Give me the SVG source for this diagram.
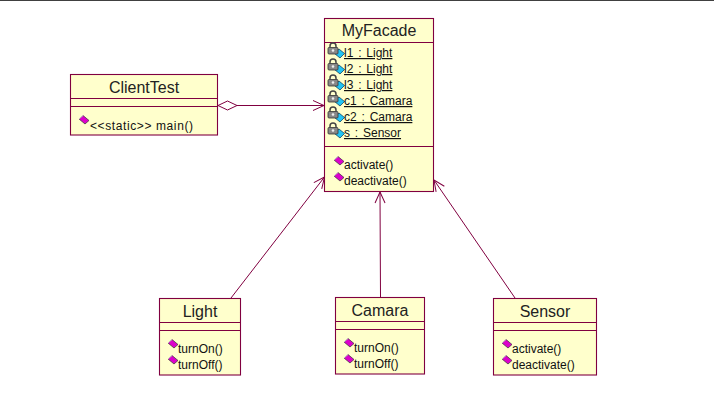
<svg xmlns="http://www.w3.org/2000/svg" width="714" height="407" viewBox="0 0 714 407">
<style>
.box{fill:#ffffcc;stroke:#800040;stroke-width:1.1}
.div{stroke:#800040;stroke-width:1.1;fill:none}
.conn{stroke:#800040;stroke-width:1;fill:none}
.title{font-family:"Liberation Sans",Arial,sans-serif;font-size:16px;fill:#222;text-anchor:middle}
.m{font-family:"Liberation Sans",Arial,sans-serif;font-size:12px;fill:#111}
.u{text-decoration:underline;word-spacing:1.5px}
</style>
<defs>
<g id="op"><path d="M-5 -1L-1 -4.500L5 0.500L1 4Z" fill="#dd00cc" stroke="#333" stroke-width="0.7"/><path d="M-5 -1L-1 -4.500" stroke="#fff" stroke-width="0.7"/></g>
<g id="attr">
<path d="M-5 0L-0.500 -4.500L5 0L0.500 4.500Z" transform="translate(6.500 4.500)" fill="#22c4f4" stroke="#003355" stroke-width="0.7"/>
<rect x="-5" y="-1.500" width="10" height="6.500" rx="1" fill="#888" stroke="#333" stroke-width="0.8"/>
<path d="M-3 -1.500V-3A3 3 0 0 1 3 -3V-1.500" fill="none" stroke="#444" stroke-width="1.5"/>
<circle cx="0" cy="1.500" r="1.300" fill="#eee"/>
</g>
<marker id="open" markerWidth="14" markerHeight="14" refX="12" refY="6" orient="auto" markerUnits="userSpaceOnUse"><path d="M1 1L12 6L1 11" fill="none" stroke="#800040" stroke-width="1"/></marker>
</defs>
<rect width="714" height="407" fill="#fff"/>
<rect x="0" y="0" width="714" height="1" fill="#404040"/>
<g id="connectors">
<path class="conn" d="M218 105.500L227.500 101L237 105.500L227.500 110Z"/>
<path class="conn" d="M237 105.500H324" marker-end="url(#open)"/>
<path class="conn" d="M231 298L324.500 177" marker-end="url(#open)"/>
<path class="conn" d="M380.500 297L380 192" marker-end="url(#open)"/>
<path class="conn" d="M515 298L434 180" marker-end="url(#open)"/>
</g>
<g id="MyFacade">
<rect class="box" x="324.500" y="18.500" width="109" height="173"/>
<path class="div" d="M324.500 42.500H433.500M324.500 146.500H433.500"/>
<text class="title" x="379" y="36">MyFacade</text>
<use href="#attr" x="333" y="49"/><text class="m u" x="344" y="57">l1 : Light</text>
<use href="#attr" x="333" y="65"/><text class="m u" x="344" y="73">l2 : Light</text>
<use href="#attr" x="333" y="81"/><text class="m u" x="344" y="89">l3 : Light</text>
<use href="#attr" x="333" y="97"/><text class="m u" x="344" y="105">c1 : Camara</text>
<use href="#attr" x="333" y="113"/><text class="m u" x="344" y="121">c2 : Camara</text>
<use href="#attr" x="333" y="129"/><text class="m u" x="344" y="137">s : Sensor</text>
<use href="#op" x="339" y="161"/><text class="m" x="344" y="168.500">activate()</text>
<use href="#op" x="339" y="177"/><text class="m" x="344" y="184.500">deactivate()</text>
</g>
<g id="ClientTest">
<rect class="box" x="70.500" y="74.500" width="147" height="60.500"/>
<path class="div" d="M70.500 98.500H217.500M70.500 106.500H217.500"/>
<text class="title" x="144" y="93">ClientTest</text>
<use href="#op" x="84" y="120"/><text class="m" x="90" y="130" textLength="103" lengthAdjust="spacing">&lt;&lt;static&gt;&gt; main()</text>
</g>
<g id="Light">
<rect class="box" x="159.500" y="298.500" width="81" height="76.500"/>
<path class="div" d="M159.500 322.500H240.500M159.500 330.500H240.500"/>
<text class="title" x="200" y="317">Light</text>
<use href="#op" x="173" y="344"/><text class="m" x="178" y="352.500">turnOn()</text>
<use href="#op" x="173" y="360"/><text class="m" x="178" y="368.500">turnOff()</text>
</g>
<g id="Camara">
<rect class="box" x="335.500" y="297.500" width="89" height="76.500"/>
<path class="div" d="M335.500 321.500H424.500M335.500 329.500H424.500"/>
<text class="title" x="380" y="316">Camara</text>
<use href="#op" x="349" y="343"/><text class="m" x="354" y="351.500">turnOn()</text>
<use href="#op" x="349" y="359"/><text class="m" x="354" y="367.500">turnOff()</text>
</g>
<g id="Sensor">
<rect class="box" x="493.500" y="298.500" width="103" height="76.500"/>
<path class="div" d="M493.500 322.500H596.500M493.500 330.500H596.500"/>
<text class="title" x="545" y="317">Sensor</text>
<use href="#op" x="507" y="344"/><text class="m" x="512" y="352.500">activate()</text>
<use href="#op" x="507" y="360"/><text class="m" x="512" y="368.500">deactivate()</text>
</g>
</svg>
